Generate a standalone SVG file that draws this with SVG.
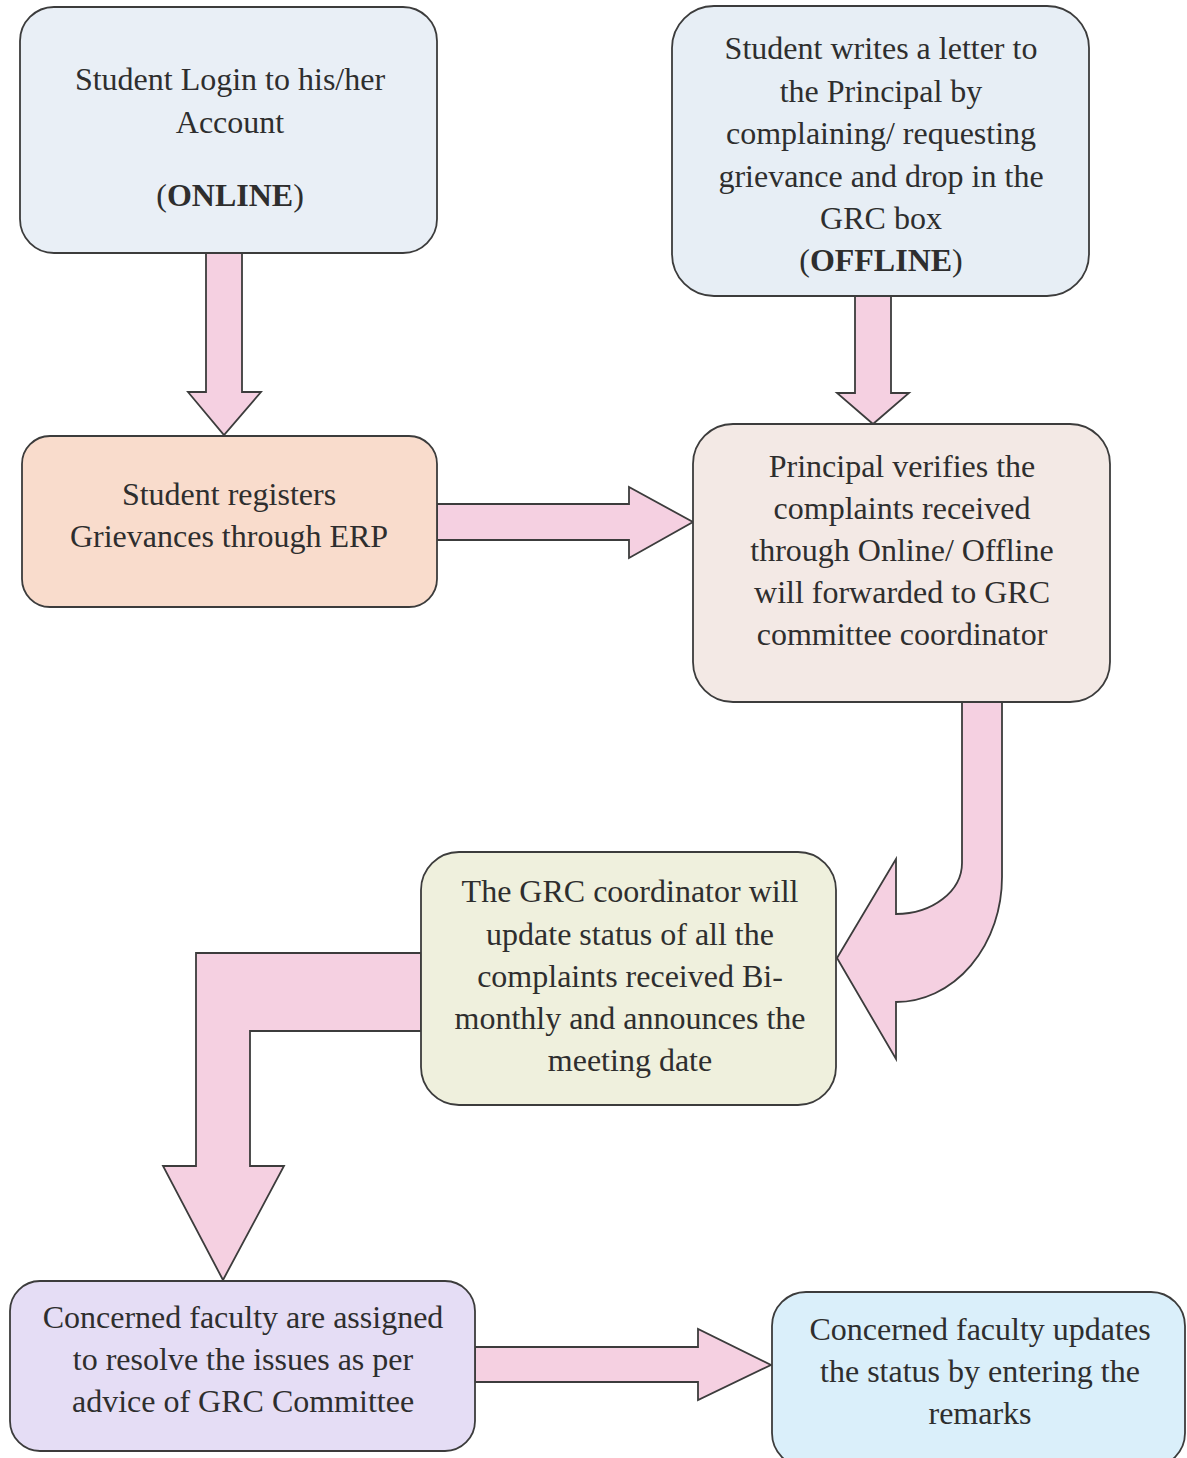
<svg xmlns="http://www.w3.org/2000/svg" width="1187" height="1458" viewBox="0 0 1187 1458">
<style>
.box{stroke:#3c3c3c;stroke-width:1.8}
.arr{fill:#f5d0e1;stroke:#3c3c3c;stroke-width:1.8;stroke-linejoin:miter}
text{font-family:"Liberation Serif","Times New Roman",serif;font-size:32px;fill:#2e2e2e;text-anchor:middle}
.b{font-weight:bold}
</style>
<rect width="1187" height="1458" fill="#ffffff"/>
<g id="connectors">
<path class="arr" d="M206 253 L242 253 L242 392 L261 392 L224 435 L188 392 L206 392 Z"/>
<path class="arr" d="M855 296 L891 296 L891 393 L909 393 L873 424 L837 393 L855 393 Z"/>
<path class="arr" d="M437 504 L629 504 L629 487 L693 522 L629 558 L629 540 L437 540 Z"/>
<path class="arr" d="M962 702 L962 863 A66 51 0 0 1 896 914 L896 859 L837 958 L896 1059 L896 1002 A106 125 0 0 0 1002 877 L1002 702 Z"/>
<path class="arr" d="M421 953 L196 953 L196 1166 L163 1166 L223 1280 L284 1166 L250 1166 L250 1031 L421 1031 Z"/>
<path class="arr" d="M475 1347 L698 1347 L698 1329 L771 1365 L698 1400 L698 1382 L475 1382 Z"/>
</g>
<g id="node-online">
<rect class="box" x="20" y="7" width="417" height="246" rx="34" fill="#e9eff6"/>
<text x="230" y="90">Student Login to his/her</text>
<text x="230" y="133">Account</text>
<text x="230" y="206">(<tspan class="b">ONLINE</tspan>)</text>
</g>
<g id="node-offline">
<rect class="box" x="672" y="6" width="417" height="290" rx="42" fill="#e7eef5"/>
<text x="881" y="59">Student writes a letter to</text>
<text x="881" y="102">the Principal by</text>
<text x="881" y="144">complaining/ requesting</text>
<text x="881" y="187">grievance and drop in the</text>
<text x="881" y="229">GRC box</text>
<text x="881" y="271">(<tspan class="b">OFFLINE</tspan>)</text>
</g>
<g id="node-register">
<rect class="box" x="22" y="436" width="415" height="171" rx="28" fill="#f9dccc"/>
<text x="229" y="505">Student registers</text>
<text x="229" y="547">Grievances through ERP</text>
</g>
<g id="node-principal">
<rect class="box" x="693" y="424" width="417" height="278" rx="40" fill="#f3e9e5"/>
<text x="902" y="477">Principal verifies the</text>
<text x="902" y="519">complaints received</text>
<text x="902" y="561">through Online/ Offline</text>
<text x="902" y="603">will forwarded to GRC</text>
<text x="902" y="645">committee coordinator</text>
</g>
<g id="node-coordinator">
<rect class="box" x="421" y="852" width="415" height="253" rx="38" fill="#eff0dd"/>
<text x="630" y="902">The GRC coordinator will</text>
<text x="630" y="945">update status of all the</text>
<text x="630" y="987">complaints received Bi-</text>
<text x="630" y="1029">monthly and announces the</text>
<text x="630" y="1071">meeting date</text>
</g>
<g id="node-assigned">
<rect class="box" x="10" y="1281" width="465" height="170" rx="30" fill="#e5ddf5"/>
<text x="243" y="1328">Concerned faculty are assigned</text>
<text x="243" y="1370">to resolve the issues as per</text>
<text x="243" y="1412">advice of GRC Committee</text>
</g>
<g id="node-updates">
<rect class="box" x="772" y="1292" width="413" height="175" rx="34" fill="#daeffa"/>
<text x="980" y="1340">Concerned faculty updates</text>
<text x="980" y="1382">the status by entering the</text>
<text x="980" y="1424">remarks</text>
</g>
</svg>
